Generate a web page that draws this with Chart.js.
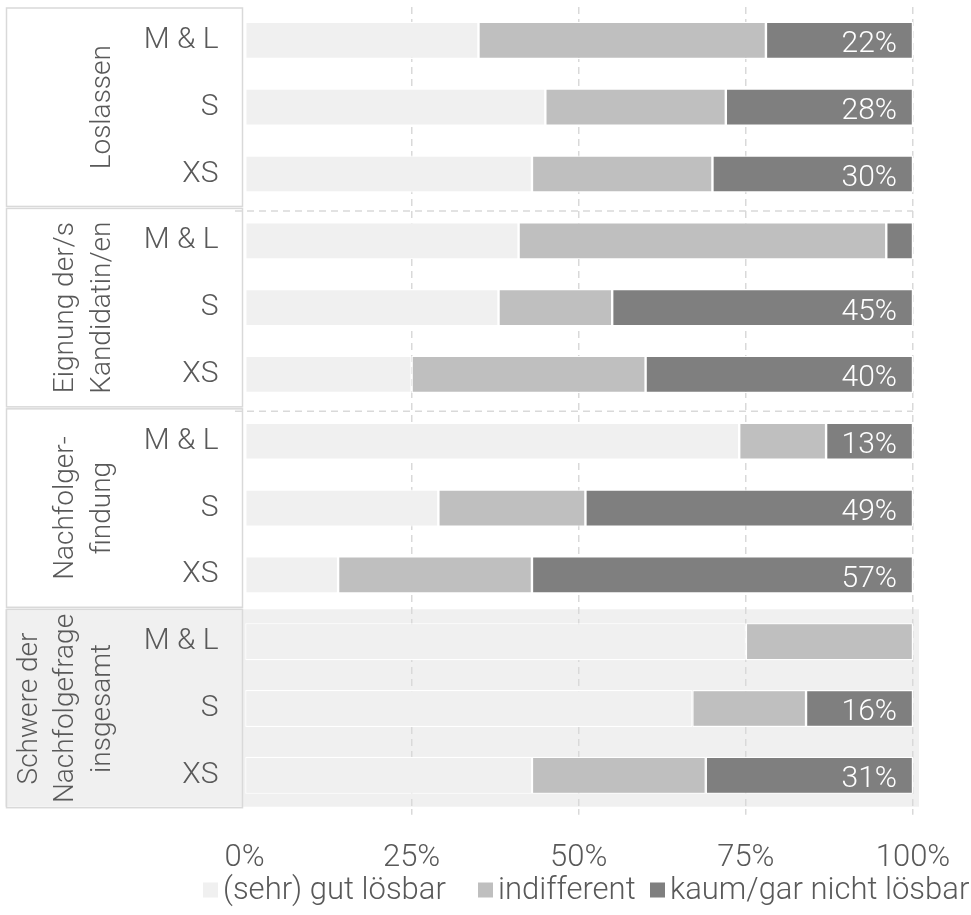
<!DOCTYPE html>
<html>
<head>
<meta charset="utf-8">
<script src="https://cdn.jsdelivr.net/npm/chart.js@4"></script>
<style>
  html, body { margin: 0; padding: 0; background: #ffffff; }
  canvas { display: block; }
</style>
</head>
<body>
<canvas id="chart" width="971" height="915"></canvas>
<script>
// Panel titles (one array of lines per panel) and the size classes inside each panel
const panelTitles = [
  ["Loslassen"],
  ["Eignung der/s", "Kandidatin/en"],
  ["Nachfolger-", "findung"],
  ["Schwere der", "Nachfolgefrage", "insgesamt"]
];
const sizeClasses = ["M & L", "S", "XS"];

// Shares in percent, rows ordered panel by panel (M & L, S, XS)
const gutLoesbar   = [35, 45, 43,  41, 38, 25,  74, 29, 14,  75, 67, 43];
const indifferent  = [43, 27, 27,  55, 17, 35,  13, 22, 29,  25, 17, 26];
const nichtLoesbar = [22, 28, 30,   4, 45, 40,  13, 49, 57,   0, 16, 31];

const seriesNames = ["(sehr) gut lösbar", "indifferent", "kaum/gar nicht lösbar"];
const xTickValues = [0, 25, 50, 75, 100];

const FAMILY = "Roboto, 'Open Sans', 'Liberation Sans', sans-serif";
const STRIP_SIZE = 28;
const LABEL_SIZE = 30;
const LEGEND_SIZE = 31;
const TEXT = "#595959";
const GRID = "#d9d9d9";
const COLORS = ["#f0f0f0", "#bfbfbf", "#7f7f7f"];
const PANEL_BG = "#f0f0f0";
// left edge of each legend key
const LEGEND_KEY_X = [203, 478, 650];

const rowLabels = panelTitles.flatMap(() => sizeClasses);
const rowsPerPanel = sizeClasses.length;

function font(size) { return `300 ${size}px ${FAMILY}`; }

// Strip boxes, panel background, separators, value labels and legend
const decor = {
  id: "decor",
  beforeDraw(chart) {
    const { ctx, chartArea: a } = chart;
    const band = (a.bottom - a.top) / rowLabels.length;
    ctx.save();
    // shaded last panel (strip + plot)
    const lastTop = a.top + (panelTitles.length - 1) * rowsPerPanel * band;
    ctx.fillStyle = PANEL_BG;
    ctx.fillRect(5, lastTop + 1, a.right + 6 - 5, rowsPerPanel * band - 3);
    // dashed separators between the upper panels
    ctx.strokeStyle = GRID;
    ctx.lineWidth = 1.5;
    ctx.setLineDash([7, 5]);
    for (let p = 1; p < panelTitles.length - 1; p++) {
      const y = a.top + p * rowsPerPanel * band + 3.5;
      ctx.beginPath();
      ctx.moveTo(235, y);
      ctx.lineTo(a.right, y);
      ctx.stroke();
    }
    ctx.restore();
  },
  afterDatasetsDraw(chart) {
    const { ctx } = chart;
    const meta = chart.getDatasetMeta(2);
    ctx.save();
    ctx.font = font(LABEL_SIZE);
    ctx.fillStyle = "#ffffff";
    ctx.textAlign = "right";
    ctx.textBaseline = "alphabetic";
    meta.data.forEach((bar, i) => {
      const v = nichtLoesbar[i];
      if (v >= 10) ctx.fillText(v + "%", bar.x - 16, bar.y + 12);
    });
    ctx.restore();
  },
  afterDraw(chart) {
    const { ctx, chartArea: a } = chart;
    const band = (a.bottom - a.top) / rowLabels.length;
    ctx.save();
    // strip boxes with rotated panel titles
    panelTitles.forEach((lines, p) => {
      const top = a.top + p * rowsPerPanel * band;
      const h = rowsPerPanel * band;
      ctx.strokeStyle = GRID;
      ctx.lineWidth = 1.5;
      ctx.setLineDash([]);
      ctx.strokeRect(6.5, top + 1, 236, h - 2);
      ctx.font = font(STRIP_SIZE);
      ctx.fillStyle = TEXT;
      ctx.textAlign = "center";
      ctx.textBaseline = "alphabetic";
      const cy = top + h / 2;
      lines.forEach((line, i) => {
        const x = 110 - (lines.length - 1 - i) * 36.7;
        ctx.save();
        ctx.translate(x, cy);
        ctx.rotate(-Math.PI / 2);
        ctx.fillText(line, 0, 0);
        ctx.restore();
      });
    });
    // legend
    ctx.font = font(LEGEND_SIZE);
    ctx.textAlign = "left";
    ctx.textBaseline = "middle";
    const yc = 890;
    chart.data.datasets.forEach((ds, i) => {
      const x = LEGEND_KEY_X[i];
      ctx.fillStyle = ds.backgroundColor;
      ctx.fillRect(x, yc - 7.5, 15, 15);
      ctx.fillStyle = TEXT;
      ctx.fillText(ds.label, x + 20, yc + 1);
    });
    ctx.restore();
  }
};

const seriesValues = [gutLoesbar, indifferent, nichtLoesbar];

new Chart(document.getElementById("chart"), {
  type: "bar",
  data: {
    labels: rowLabels,
    datasets: seriesNames.map((name, i) => ({
      label: name,
      data: seriesValues[i],
      backgroundColor: COLORS[i],
      borderColor: "#ffffff",
      borderWidth: 1.2,
      borderSkipped: false,
      barPercentage: 0.555,
      categoryPercentage: 1
    }))
  },
  options: {
    indexAxis: "y",
    responsive: false,
    animation: false,
    devicePixelRatio: 1,
    layout: { padding: { top: 7, right: 58, bottom: 16.3, left: 0 } },
    plugins: {
      legend: { display: false },
      tooltip: { enabled: false }
    },
    scales: {
      x: {
        stacked: true,
        min: 0,
        max: 100,
        afterBuildTicks(scale) { scale.ticks = xTickValues.map(v => ({ value: v })); },
        afterFit(scale) {
          scale.height = 90;
          scale.paddingLeft = 0;
          scale.paddingRight = 0;
        },
        ticks: {
          font: { family: FAMILY, size: LEGEND_SIZE, weight: 300 },
          color: TEXT,
          padding: 25,
          maxRotation: 0,
          callback: (v) => v + "%"
        },
        grid: {
          color: (c) => (c.tick && c.tick.value === 0 ? "rgba(0,0,0,0)" : GRID),
          tickColor: (c) => (c.tick && c.tick.value === 0 ? "rgba(0,0,0,0)" : GRID),
          lineWidth: 1.5,
          tickLength: 6,
          tickBorderDash: [7, 5]
        },
        border: { display: false, dash: [7, 5] }
      },
      y: {
        stacked: true,
        afterFit(scale) {
          scale.width = 244.5;
          scale.paddingTop = 0;
          scale.paddingBottom = 0;
        },
        ticks: {
          font: { family: FAMILY, size: LABEL_SIZE, weight: 300 },
          color: TEXT,
          padding: 26,
          autoSkip: false
        },
        grid: { display: false, drawTicks: false },
        border: { display: false }
      }
    }
  },
  plugins: [decor]
});
</script>
</body>
</html>
